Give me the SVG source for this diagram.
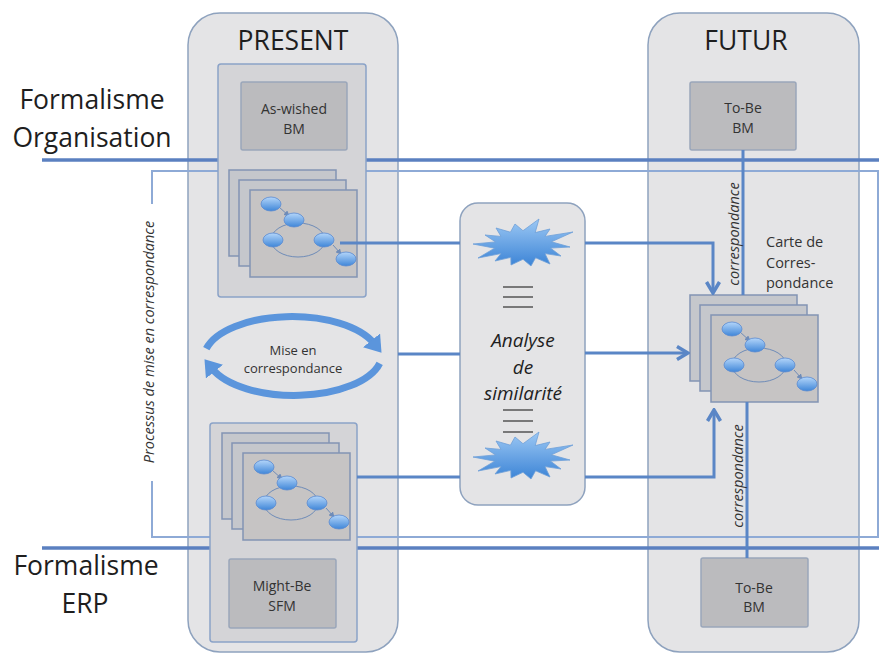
<svg xmlns="http://www.w3.org/2000/svg" xmlns:xlink="http://www.w3.org/1999/xlink" width="879" height="655" viewBox="0 0 879 655">
<style>
.panel{fill:#e4e4e6;stroke:#8ea2be;stroke-width:1.5}
.inner{fill:#d4d4d7;stroke:#8aa2c8;stroke-width:1.5}
.lbox{fill:#bbbbbe;stroke:#9aa6ba;stroke-width:1.5}
.page{fill:#c5c7cc;stroke:#8294b4;stroke-width:1.5}
.fpage{fill:#c6c4c4;stroke:#8294b4;stroke-width:1.5}
.node{fill:url(#ng);stroke:#5a8ad0;stroke-width:0.8}
.edge{fill:none;stroke:#6f8cb8;stroke-width:1}
.thick{fill:none;stroke:#5b80c0;stroke-width:3.5}
.thin{fill:none;stroke:#8eaad6;stroke-width:2}
.conn{fill:none;stroke:#5a86c6;stroke-width:3}
.ring{fill:none;stroke:#5b95dc;stroke-width:7}
.t{font-family:"Open Sans","Liberation Sans",sans-serif;fill:#1e1e1e}
.big{font-size:26.5px}
.small{font-size:14px;fill:#333}
.it{font-style:italic}
</style>
<defs>
<linearGradient id="ng" x1="0" y1="0" x2="0" y2="1">
<stop offset="0" stop-color="#b4d6fa"/>
<stop offset="1" stop-color="#3f86d8"/>
</linearGradient>
<linearGradient id="bg" x1="0" y1="0" x2="0" y2="1">
<stop offset="0" stop-color="#9cc8f4"/>
<stop offset="1" stop-color="#3c84d6"/>
</linearGradient>
<marker id="arr" markerUnits="userSpaceOnUse" viewBox="0 0 14 16" refX="12" refY="8" markerWidth="14" markerHeight="16" orient="auto">
<path d="M1,1.5 L12,8 L1,14.5" fill="none" stroke="#5a86c6" stroke-width="3.5"/>
</marker>
<marker id="rarr" markerUnits="userSpaceOnUse" viewBox="0 0 16 22" refX="4" refY="11" markerWidth="16" markerHeight="22" orient="auto">
<path d="M0,0 L16,11 L0,22 Z" fill="#5b95dc"/>
</marker>
<marker id="sm" markerUnits="userSpaceOnUse" viewBox="0 0 6 6" refX="5" refY="3" markerWidth="6" markerHeight="6" orient="auto">
<path d="M0,0 L6,3 L0,6 Z" fill="#6f8cb8"/>
</marker>
<g id="stack">
<rect class="page" x="0" y="0" width="107" height="86"/>
<rect class="page" x="10" y="10" width="107" height="86"/>
<rect class="fpage" x="21" y="20" width="107" height="87"/>
<ellipse class="edge" cx="69" cy="70" rx="27" ry="17"/>
<line class="edge" x1="50" y1="37" x2="60" y2="46" marker-end="url(#sm)"/>
<line class="edge" x1="104" y1="75" x2="112" y2="84" marker-end="url(#sm)"/>
<ellipse class="node" cx="42" cy="34" rx="10" ry="7"/>
<ellipse class="node" cx="65" cy="50" rx="10" ry="7"/>
<ellipse class="node" cx="44" cy="70" rx="10" ry="7"/>
<ellipse class="node" cx="95" cy="70" rx="10" ry="7"/>
<ellipse class="node" cx="117" cy="89" rx="10" ry="7"/>
</g>
<polygon id="burst" points="47,2 27.5,3.1 38,11 22,8.6 27,19 12.6,12.8 8,21 0,14.3 -12,20 -12.2,12.4 -28,16 -22,8.6 -45,13 -28.4,3.2 -50,-1 -27.5,-3.1 -38,-10 -22,-8.6 -27,-17 -12.6,-12.8 -8,-21 0,-14.3 16,-26 12.2,-12.4 27,-16 22,-8.6 50,-13 28.4,-3.2" fill="url(#bg)" stroke="#6f9fd8" stroke-width="0.8"/>
</defs>

<g id="present">
<rect class="panel" x="188" y="13" width="210" height="639" rx="32"/>
<text class="t big" x="293" y="50" text-anchor="middle">PRESENT</text>
</g>
<g id="futur">
<rect class="panel" x="648" y="13" width="211" height="639" rx="32"/>
<text class="t big" x="746" y="50" text-anchor="middle">FUTUR</text>
</g>

<g id="formalisme-organisation">
<line class="thick" x1="42" y1="160" x2="879" y2="160"/>
<text class="t big" x="92" y="109" text-anchor="middle">Formalisme</text>
<text class="t big" x="92" y="147" text-anchor="middle">Organisation</text>
</g>
<g id="formalisme-erp">
<line class="thick" x1="42" y1="548" x2="879" y2="548"/>
<text class="t big" x="86" y="575" text-anchor="middle">Formalisme</text>
<text class="t big" x="85" y="613" text-anchor="middle">ERP</text>
</g>
<g id="processus">
<path class="thin" d="M152,204 V171 H878 V537 H152 V481"/>
<text class="t it" style="font-size:14.5px;fill:#333" transform="translate(148,342) rotate(-90)" text-anchor="middle" dominant-baseline="central">Processus de mise en correspondance</text>
</g>

<g id="as-wished-group">
<rect class="inner" x="218" y="64" width="148" height="233" rx="3"/>
<rect class="lbox" x="241" y="82" width="106" height="68" rx="2"/>
<text class="t small" x="294" y="114" text-anchor="middle">As-wished</text>
<text class="t small" x="294" y="134" text-anchor="middle">BM</text>
<use xlink:href="#stack" href="#stack" x="229" y="170"/>
</g>

<g id="mise-en-correspondance">
<path class="ring" d="M206.3,348.7 A88,42 0 0 1 374,343.5" marker-end="url(#rarr)"/>
<path class="ring" d="M379.7,363.3 A88,42 0 0 1 212,368.5" marker-end="url(#rarr)"/>
<text class="t" style="font-size:13px;fill:#333" x="293" y="355" text-anchor="middle">Mise en</text>
<text class="t" style="font-size:13px;fill:#333" x="293" y="373" text-anchor="middle">correspondance</text>
</g>

<g id="might-be-group">
<rect class="inner" x="210" y="423" width="147" height="219" rx="3"/>
<use xlink:href="#stack" href="#stack" x="222" y="433"/>
<rect class="lbox" x="229" y="559" width="107" height="69" rx="2"/>
<text class="t small" x="282" y="591" text-anchor="middle">Might-Be</text>
<text class="t small" x="282" y="611" text-anchor="middle">SFM</text>
</g>

<g id="analyse">
<rect class="panel" x="460" y="203" width="125" height="302" rx="18"/>
<use xlink:href="#burst" href="#burst" transform="translate(523,245)"/>
<use xlink:href="#burst" href="#burst" transform="translate(523,458)"/>
<g stroke="#555" stroke-width="1.5">
<line x1="503" y1="287" x2="533" y2="287"/><line x1="503" y1="297" x2="533" y2="297"/><line x1="503" y1="307" x2="533" y2="307"/>
<line x1="503" y1="410" x2="533" y2="410"/><line x1="503" y1="421" x2="533" y2="421"/><line x1="503" y1="432" x2="533" y2="432"/>
</g>
<text class="t it" style="font-size:19px" x="523" y="347" text-anchor="middle">Analyse</text>
<text class="t it" style="font-size:19px" x="523" y="374" text-anchor="middle">de</text>
<text class="t it" style="font-size:19px" x="523" y="400" text-anchor="middle">similarité</text>
</g>

<g id="to-be-top">
<rect class="lbox" x="690" y="82" width="106" height="68" rx="2"/>
<text class="t small" x="743" y="113" text-anchor="middle">To-Be</text>
<text class="t small" x="743" y="133" text-anchor="middle">BM</text>
</g>
<g id="carte">
<use xlink:href="#stack" href="#stack" x="690" y="295"/>
<text class="t" style="font-size:14.5px;fill:#333" x="766" y="247">Carte de</text>
<text class="t" style="font-size:14.5px;fill:#333" x="766" y="268">Corres-</text>
<text class="t" style="font-size:14.5px;fill:#333" x="766" y="288">pondance</text>
</g>
<g id="to-be-bottom">
<rect class="lbox" x="701" y="558" width="107" height="69" rx="2"/>
<text class="t small" x="754" y="593" text-anchor="middle">To-Be</text>
<text class="t small" x="754" y="612" text-anchor="middle">BM</text>
</g>

<g id="connectors">
<line class="conn" x1="340" y1="243" x2="460" y2="243"/>
<polyline class="conn" points="585,243 713,243 713,293" marker-end="url(#arr)"/>
<line class="conn" x1="398" y1="354" x2="460" y2="354"/>
<line class="conn" x1="585" y1="353" x2="688" y2="353" marker-end="url(#arr)"/>
<line class="conn" x1="357" y1="477" x2="460" y2="477"/>
<polyline class="conn" points="585,477 714,477 714,410" marker-end="url(#arr)"/>
<line class="conn" x1="743" y1="150" x2="743" y2="295"/>
<line class="conn" x1="747" y1="402" x2="747" y2="558"/>
<text class="t it" style="font-size:14.5px;fill:#333" transform="translate(733,234) rotate(-90)" text-anchor="middle" dominant-baseline="central">correspondance</text>
<text class="t it" style="font-size:14.5px;fill:#333" transform="translate(737,476) rotate(-90)" text-anchor="middle" dominant-baseline="central">correspondance</text>
</g>
</svg>
